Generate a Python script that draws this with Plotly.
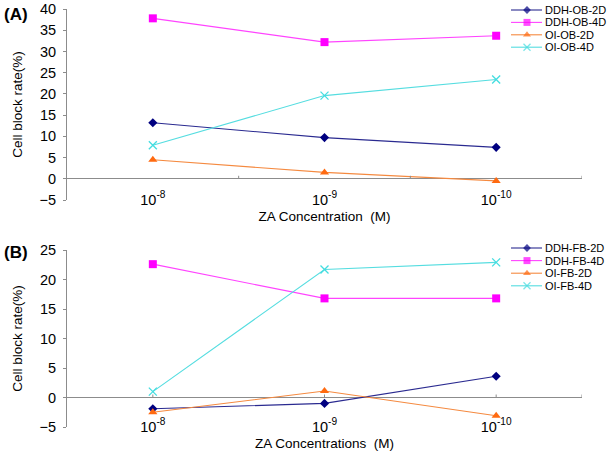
import plotly.graph_objects as go

# ---------------- data ----------------
categories = ["10<sup>-8</sup>", "10<sup>-9</sup>", "10<sup>-10</sup>"]

names_a = ["DDH-OB-2D", "DDH-OB-4D", "OI-OB-2D", "OI-OB-4D"]
ddh_ob_2d = [13.2, 9.7, 7.4]
ddh_ob_4d = [37.8, 32.2, 33.7]
oi_ob_2d = [4.5, 1.5, -0.5]
oi_ob_4d = [7.9, 19.6, 23.4]

names_b = ["DDH-FB-2D", "DDH-FB-4D", "OI-FB-2D", "OI-FB-4D"]
ddh_fb_2d = [-1.9, -1.0, 3.6]
ddh_fb_4d = [22.6, 16.8, 16.8]
oi_fb_2d = [-2.5, 1.1, -3.1]
oi_fb_4d = [1.0, 21.7, 22.9]

yticks_a = [-5, 0, 5, 10, 15, 20, 25, 30, 35, 40]
yticks_b = [-5, 0, 5, 10, 15, 20, 25]

xtitle_a = "ZA Concentration\u00a0 (M)"
xtitle_b = "ZA Concentrations\u00a0 (M)"
ytitle = "Cell block rate(%)"

# ---------------- styles ----------------
colors = ["#000080", "#FF00FF", "#FF6A10", "#44DDE0"]
line_colors = ["#2A2A90", "#FF44FF", "#F58A40", "#55DDE0"]
symbols = ["diamond", "square", "triangle-up", "x-thin"]
sizes = [7, 8, 8, 8]

W, H = 615, 454
L, R, T, B = 67, 33, 9, 27
PW, PH = W - L - R, H - T - B
FONT = "Arial, Liberation Sans, sans-serif"
GRAY = "#8C8C8C"


def fy(py):
    return (H - B - py) / PH


def fx(px):
    return (px - L) / PW


dom_a = [fy(200), 1.0]
dom_b = [0.0, fy(250)]

fig = go.Figure()
xs = list(range(len(categories)))


def marker(i):
    if symbols[i] == "x-thin":
        return dict(symbol="x-thin", size=sizes[i], line=dict(width=1.3, color=colors[i]))
    return dict(symbol=symbols[i], size=sizes[i], color=colors[i], line=dict(width=0))


series_a = [ddh_ob_2d, ddh_ob_4d, oi_ob_2d, oi_ob_4d]
series_b = [ddh_fb_2d, ddh_fb_4d, oi_fb_2d, oi_fb_4d]

for i, (nm, ys) in enumerate(zip(names_a, series_a)):
    fig.add_trace(go.Scatter(x=xs, y=ys, name=nm, mode="lines+markers",
                             line=dict(color=line_colors[i], width=1.1),
                             marker=marker(i), xaxis="x", yaxis="y",
                             showlegend=False, cliponaxis=False))
for i, (nm, ys) in enumerate(zip(names_b, series_b)):
    fig.add_trace(go.Scatter(x=xs, y=ys, name=nm, mode="lines+markers",
                             line=dict(color=line_colors[i], width=1.1),
                             marker=marker(i), xaxis="x2", yaxis="y2",
                             showlegend=False, cliponaxis=False))

# ---------------- custom compact legends (pixel axes) ----------------
annotations = []
legend_rows = [(names_a, 10.0, 12.4), (names_b, 248.0, 12.6)]
for names, y0, step in legend_rows:
    for i, nm in enumerate(names):
        yc = y0 + i * step
        mk = dict(marker(i))
        mk["size"] = [0, sizes[i] - 1, 0]
        fig.add_trace(go.Scatter(x=[511, 527, 542], y=[yc, yc, yc], mode="lines+markers",
                                 line=dict(color=line_colors[i], width=1.1), marker=mk,
                                 xaxis="x3", yaxis="y3", showlegend=False,
                                 cliponaxis=False, hoverinfo="skip"))
        annotations.append(dict(x=fx(544), y=fy(yc), xref="paper", yref="paper",
                                text=nm, showarrow=False, xanchor="left", yanchor="middle",
                                borderpad=0,
                                font=dict(family=FONT, size=11, color="#000000")))

annotations.append(dict(x=fx(2), y=fy(14), xref="paper", yref="paper", text="<b>(A)</b>",
                        showarrow=False, xanchor="left", yanchor="middle",
                        font=dict(family=FONT, size=17, color="#000000")))
annotations.append(dict(x=fx(2), y=fy(252), xref="paper", yref="paper", text="<b>(B)</b>",
                        showarrow=False, xanchor="left", yanchor="middle",
                        font=dict(family=FONT, size=17, color="#000000")))

# tick marks on the zero line
shapes = []
for xv in [0.5, 1.5, 2.5]:
    shapes.append(dict(type="line", xref="x", yref="y", ysizemode="pixel", yanchor=0,
                       x0=xv, x1=xv, y0=0, y1=3, line=dict(color=GRAY, width=1)))
for xv in [0, 1, 2, 2.5]:
    shapes.append(dict(type="line", xref="x2", yref="y2", ysizemode="pixel", yanchor=0,
                       x0=xv, x1=xv, y0=0, y1=3, line=dict(color=GRAY, width=1)))

tickfont = dict(family=FONT, size=14.5, color="#000000")
titlefont = dict(family=FONT, size=13.5, color="#000000")


def xaxis(anchor, title):
    return dict(domain=[0, 1], range=[-0.5, 2.5], anchor=anchor, tickvals=xs,
                ticktext=categories, showline=False, showgrid=False, zeroline=False,
                ticks="", tickfont=tickfont, ticklabelstandoff=-11, automargin=False,
                ticklabeloverflow="allow",
                title=dict(text=title, font=titlefont, standoff=5))


def yaxis(anchor, dom, rng, tv):
    return dict(domain=dom, range=rng, anchor=anchor, tickvals=tv, showgrid=False,
                showline=True, linecolor=GRAY, linewidth=1, ticks="outside", ticklen=3,
                tickcolor=GRAY, zeroline=True, zerolinecolor=GRAY, zerolinewidth=1,
                tickfont=tickfont, ticklabelstandoff=4, automargin=False,
                ticklabeloverflow="allow",
                title=dict(text=ytitle, font=titlefont, standoff=13))


fig.update_layout(
    width=W, height=H,
    margin=dict(l=L, r=R, t=T, b=B, autoexpand=False),
    paper_bgcolor="white", plot_bgcolor="rgba(0,0,0,0)",
    font=dict(family=FONT, color="#000000"),
    xaxis=xaxis("y", xtitle_a),
    yaxis=yaxis("x", dom_a, [-5, 40], yticks_a),
    xaxis2=xaxis("y2", xtitle_b),
    yaxis2=yaxis("x2", dom_b, [-5, 25], yticks_b),
    xaxis3=dict(domain=[0, 1], range=[L, W - R], anchor="y3", visible=False,
                fixedrange=True, automargin=False),
    yaxis3=dict(domain=[0, 1], range=[H - B, T], anchor="x3", visible=False,
                fixedrange=True, automargin=False),
    annotations=annotations,
    shapes=shapes,
    showlegend=False,
)

fig.write_html("out.html", config={"displayModeBar": False},
               post_script="document.body.style.margin='0';document.body.style.padding='0';")
